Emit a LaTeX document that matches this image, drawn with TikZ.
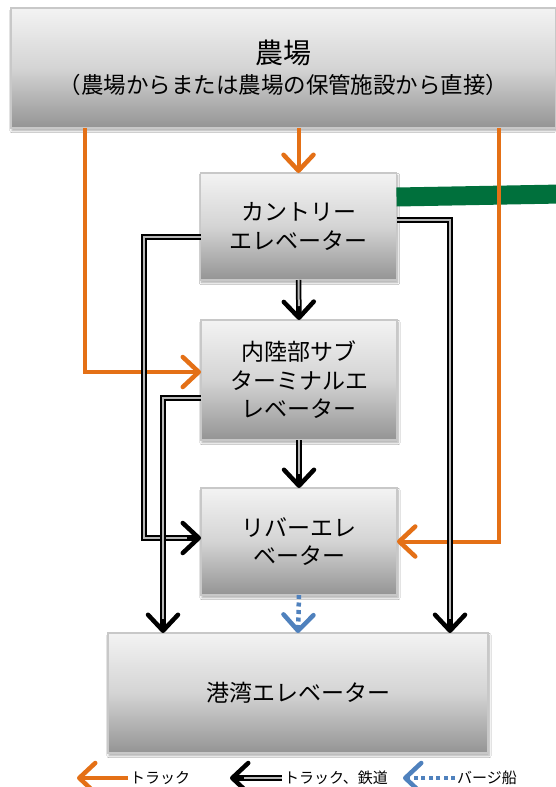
\documentclass[tikz,border=0pt]{standalone}
\usepackage{fontspec}
\setmainfont{Noto Sans CJK JP}
\usetikzlibrary{arrows.meta,calc,shadows.blur}
\definecolor{btop}{RGB}{243,243,243}
\definecolor{bmid}{RGB}{212,212,212}
\definecolor{bbot}{RGB}{148,148,148}
\definecolor{bline}{RGB}{200,200,200}
\definecolor{orng}{RGB}{228,112,22}
\definecolor{grn}{RGB}{0,112,60}
\definecolor{blu}{RGB}{79,129,189}
\tikzset{
 box/.style={draw=bline, line width=1.2pt, top color=btop, bottom color=bbot, middle color=bmid,
   inner sep=0pt, outer sep=0pt, align=center,
   blur shadow={shadow xshift=1pt, shadow yshift=-2.5pt, shadow blur steps=6, shadow opacity=35},
   font=\fontsize{23}{28.5}\selectfont},
 tip/.style={-{Straight Barb[length=16pt 0 0,width=30pt 0 0,line width=4.5pt 0 0,round]}},
 truck/.style={draw=orng, line width=4pt, tip},
 rail/.style={draw=black, line width=5.5pt, tip,
   postaction={draw=gray!55, line width=2pt, shorten >=14pt, -}},
 barge/.style={draw=blu, line width=4.5pt, dash pattern=on 4pt off 3.5pt, tip},
 greenbar/.style={draw=grn, line width=19pt},
 legend/.style={font=\fontsize{15}{18}\selectfont, inner sep=2pt, anchor=west}
}
\begin{document}
\begin{tikzpicture}[x=1pt,y=-1pt]
\useasboundingbox (0,0) rectangle (555,787);
\fill[white] (0,0) rectangle (555,787);
% columns
\coordinate (xOL) at (85,0);
\coordinate (xOR) at (499,0);
\coordinate (xBL1) at (144,0);
\coordinate (xBL2) at (163,0);
\coordinate (xBR) at (450,0);
\coordinate (gEnd) at (562,194);
% boxes
\node[box, minimum width=545pt, minimum height=120pt] (farm) at (283.5,68)
  {{\fontsize{28}{34}\selectfont 農場}\\[2pt]{\fontsize{22.5}{28}\selectfont （農場からまたは農場の保管施設から直接）}};
\node[box, minimum width=196pt, minimum height=107pt] (country) at (298.5,226.5) {カントリー\\エレベーター};
\node[box, minimum width=196pt, minimum height=120pt] (sub) at (299,380) {内陸部サブ\\ターミナルエ\\レベーター};
\node[box, minimum width=196pt, minimum height=107pt] (river) at (299,541.5) {リバーエレ\\ベーター};
\node[box, minimum width=380pt, minimum height=120pt] (port) at (298,693) {港湾エレベーター};
% green bar
\draw[greenbar] ($(country.east)+(0,-29.5)$) -- (gEnd);
% truck connectors
\draw[truck] (farm.south -| country) -- (country.north);
\draw[truck] (farm.south -| xOL) |- ($(sub.west)+(0,-8)$);
\draw[truck] (farm.south -| xOR) |- (river.east);
% truck/rail connectors
\coordinate (cl) at ($(country.west)+(0,10.5)$);
\coordinate (rl) at ($(river.west)+(0,-3.5)$);
\coordinate (sl) at ($(sub.west)+(0,18)$);
\coordinate (cr) at ($(country.east)+(0,-6.5)$);
\draw[rail] (cl) -| (xBL1 |- rl) -- (rl);
\draw[rail] (sl) -| (port.north -| xBL2);
\draw[rail] (cr) -| (port.north -| xBR);
\draw[rail] (country.south) -- (sub.north);
\draw[rail] (sub.south) -- (river.north);
% barge
\draw[barge] (river.south) -- (port.north);
% legend
\node[legend] (lg1) at (128,778) {トラック};
\node[legend] (lg2) at (282,778) {トラック、鉄道};
\node[legend] (lg3) at (455,778) {バージ船};
\coordinate (lg1e) at (77,778);
\coordinate (lg2e) at (230,778);
\coordinate (lg3e) at (403,778);
\draw[truck] (lg1.west) -- (lg1e);
\draw[rail] (lg2.west) -- (lg2e);
\draw[barge] (lg3.west) -- (lg3e);
\end{tikzpicture}
\end{document}
